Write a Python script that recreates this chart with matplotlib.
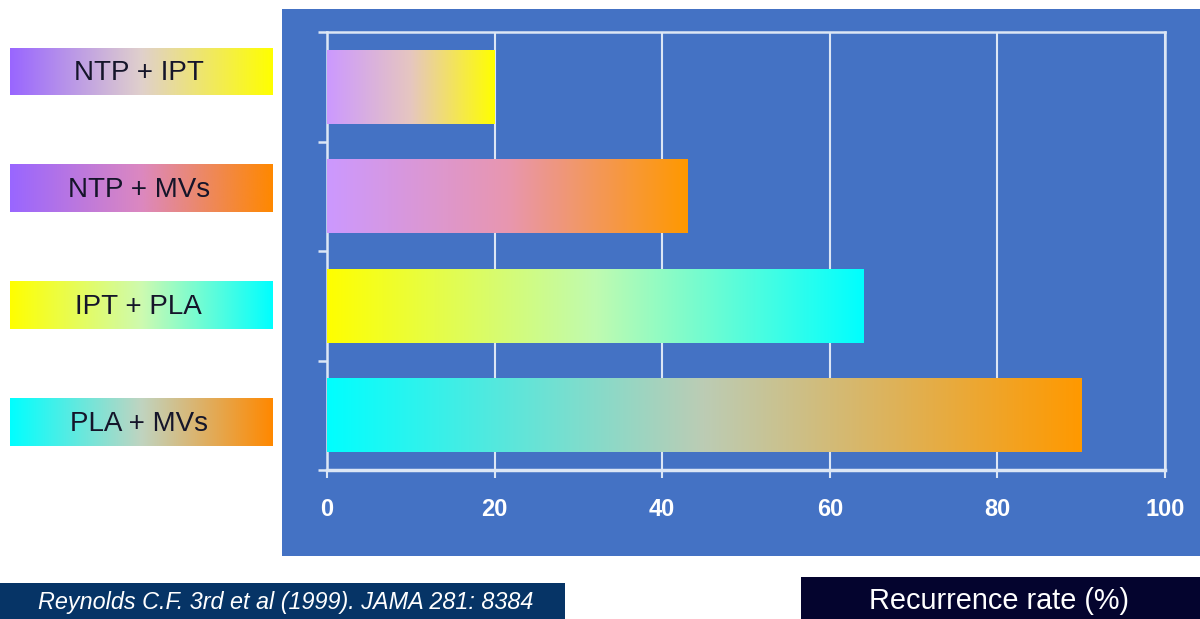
import numpy as np
import matplotlib
matplotlib.use("Agg")
import matplotlib.pyplot as plt
from matplotlib.colors import LinearSegmentedColormap
from matplotlib.patches import Rectangle

# ---- data ----
categories = ["NTP + IPT", "NTP + MVs", "IPT + PLA", "PLA + MVs"]
recurrence = [20, 43, 64, 90]
xticks = [0, 20, 40, 60, 80, 100]
bar_colors = [("#cc99ff", "#e6c6c0", "#ffff00"), ("#cc99ff", "#e896b0", "#ff9900"),
              ("#ffff00", "#c0fab0", "#00ffff"), ("#00ffff", "#bcccb4", "#ff9900")]
label_colors = [("#9966ff", "#e0d0cc", "#ffff00"), ("#9966ff", "#dc88c0", "#ff8800"),
                ("#ffff00", "#cefab0", "#00ffff"), ("#00ffff", "#c0d4c0", "#ff8800")]
citation = "Reynolds C.F. 3rd et al (1999). JAMA 281: 8384"
xlabel = "Recurrence rate (%)"

plt.rcParams['font.family'] = ['Liberation Sans', 'DejaVu Sans']

W, H = 1200, 619
fig = plt.figure(figsize=(W / 100, H / 100), dpi=100)
fig.patch.set_facecolor("white")


def fx(px):
    return px / W


def fy(py):
    return 1 - py / H


# blue panel
fig.add_artist(Rectangle((fx(282), fy(556)), fx(1200) - fx(282), fy(9) - fy(556),
                         transform=fig.transFigure, facecolor="#4472c4",
                         edgecolor="none", zorder=0))
# bottom boxes
fig.add_artist(Rectangle((fx(0), fy(619)), fx(565), fy(583) - fy(619),
                         transform=fig.transFigure, facecolor="#063466",
                         edgecolor="none", zorder=0))
fig.add_artist(Rectangle((fx(801), fy(619)), fx(1200) - fx(801), fy(577) - fy(619),
                         transform=fig.transFigure, facecolor="#04042e",
                         edgecolor="none", zorder=0))
fig.text(fx(286), fy(603), citation, color="white", fontsize=16.8, style="italic",
         ha="center", va="center")
fig.text(fx(999), fy(601), xlabel, color="white", fontsize=20.8,
         ha="center", va="center")

# ---- main axes ----
ax = fig.add_axes([fx(327), fy(470), fx(1165) - fx(327), fy(32) - fy(470)])
ax.set_facecolor("none")
ypos = np.arange(len(categories))
bar_h = 0.675
bars = ax.barh(ypos, recurrence, height=bar_h, facecolor="none", edgecolor="none", zorder=3)
grad = np.linspace(0, 1, 256).reshape(1, -1)
for b, cols in zip(bars, bar_colors):
    cmap = LinearSegmentedColormap.from_list("g", list(cols))
    x0, y0 = b.get_x(), b.get_y()
    im = ax.imshow(grad, cmap=cmap, aspect="auto", zorder=3,
                   extent=[x0, x0 + b.get_width(), y0 + b.get_height(), y0],
                   interpolation="bicubic")
    im.set_clip_path(b)

ax.set_xlim(0, 100)
ax.set_ylim(len(categories) - 0.5, -0.5)
line_c = "#dce6f5"
ax.set_xticks(xticks)
ax.set_xticklabels([str(t) for t in xticks])
ax.set_yticks(np.arange(-0.5, len(categories), 1.0))
ax.set_yticklabels([])
ax.grid(axis="x", color=line_c, linewidth=1.5, zorder=1)
ax.set_axisbelow(True)
for s in ax.spines.values():
    s.set_color(line_c)
    s.set_linewidth(1.8)
ax.spines["bottom"].set_linewidth(2.5)
ax.tick_params(axis="y", direction="out", length=6.5, width=1.8, color=line_c)
ax.tick_params(axis="x", direction="out", length=6, width=1.5, color=line_c,
               labelcolor="white", labelsize=17, pad=14)
for lab in ax.get_xticklabels():
    lab.set_fontweight("bold")

# ---- label boxes ----
lab_ax = fig.add_axes([fx(10), fy(446), fx(273) - fx(10), fy(48) - fy(446)])
lab_ax.set_axis_off()
box_h = 0.402
for i, (name, cols) in enumerate(zip(categories, label_colors)):
    cmap = LinearSegmentedColormap.from_list("l", list(cols))
    lab_ax.imshow(grad, cmap=cmap, aspect="auto", interpolation="bicubic",
                  extent=[0, 1, i + box_h / 2, i - box_h / 2])
    lab_ax.text(0.49, i + 0.01, name, ha="center", va="center", fontsize=20,
                color="#15152a")
lab_ax.set_xlim(0, 1)
lab_ax.set_ylim(len(categories) - 1 + 0.201, -0.201)

fig.savefig("out.png", dpi=100, facecolor="white")
